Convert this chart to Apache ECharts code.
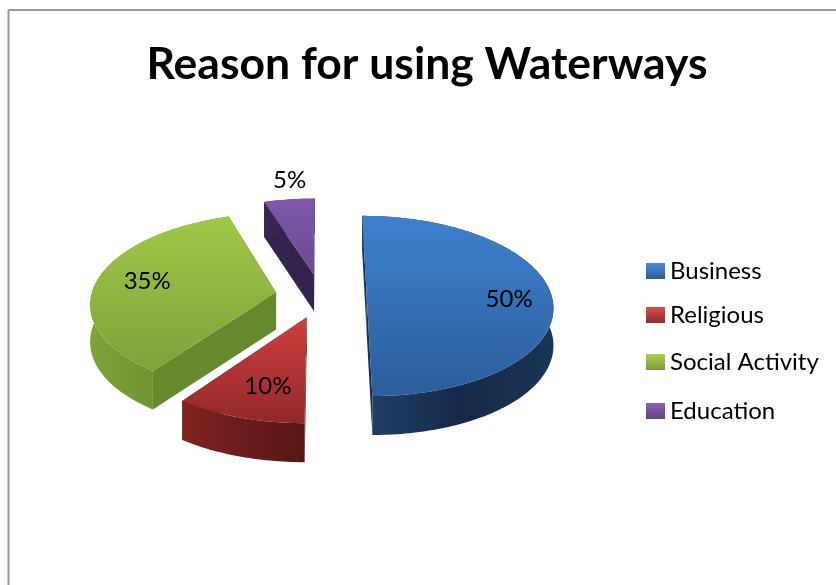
<!DOCTYPE html>
<html>
<head>
<meta charset="utf-8">
<style>
  html, body { margin: 0; padding: 0; background: #fff; }
  #chart { width: 836px; height: 585px; }
</style>
<script src="https://cdn.jsdelivr.net/npm/echarts@6/dist/echarts.min.js"></script>
</head>
<body>
<div id="chart"></div>
<script>
// Survey answers, in percent
const chartTitle = 'Reason for using Waterways';
const categories = ['Business', 'Religious', 'Social Activity', 'Education'];
const shares = [50, 10, 35, 5];

// Tilted-disc projection used for the exploded pie
const view = { cx: 321, cy: 296, rx: 185, ry: 89, perspective: 0.11, explode: 0.247 };

// One look per slice, painted from back to front via paintOrder
const looks = [
  { top: ['#3f81ce', '#2c5d9b'], wall: ['#1f4268', '#15294a', '#1a3556'], side: '#16304f', legend: ['#4a8cd8', '#2b5c98'] },
  { top: ['#cf403e', '#91282a'], wall: ['#7f2522', '#6a1c1b', '#571716'], side: '#5a1716', legend: ['#d6504e', '#92292a'] },
  { top: ['#9fc948', '#7da23a'], wall: ['#7fa239', '#6f9331', '#5f8229'], side: '#66892c', legend: ['#a9d24f', '#7a9b39'] },
  { top: ['#7f58aa', '#6b4a92'], wall: ['#3a2856', '#33234d', '#2d1f45'], side: '#33234d', legend: ['#8a63b6', '#5f4283'] }
];
const paintOrder = [3, 2, 0, 1];

// Where each percentage sits: fraction of the radius along the slice bisector, then a nudge
const labelSpots = [
  { f: 0.77, dx: 0, dy: 3 },
  { f: 0.6, dx: 0, dy: 12 },
  { f: 0.72, dx: 0, dy: -1 },
  { f: 1.3, dx: 7, dy: 1 }
];
const legendCentres = [270, 314, 361, 410];

const total = shares.reduce((a, b) => a + b, 0);
const startAngles = shares.map((_, i) =>
  shares.slice(0, i).reduce((a, b) => a + b, 0) / total * Math.PI * 2);

function project(x, v) {
  const d = 1 - view.perspective * v;
  return [view.cx + view.rx * x / d, view.cy + view.ry * v / d];
}
function wallDepth(v) {
  return 37 + 2 * Math.max(-1, Math.min(1, v));
}

function sliceShapes(index, share) {
  const from = startAngles[index];
  const to = from + share / total * Math.PI * 2;
  const mid = (from + to) / 2;
  const ox = view.explode * Math.sin(mid);
  const ov = -view.explode * Math.cos(mid);
  const rim = [];
  const bottomRim = [];
  const steps = Math.max(4, Math.round((to - from) / 0.02));
  for (let k = 0; k <= steps; k++) {
    const a = from + (to - from) * k / steps;
    const v = ov - Math.cos(a);
    const p = project(ox + Math.sin(a), v);
    rim.push(p);
    bottomRim.push([p[0], p[1] + wallDepth(v)]);
  }
  const apex = project(ox, ov);
  const apexBottom = [apex[0], apex[1] + wallDepth(ov)];
  return { from, to, mid, ox, ov, rim, bottomRim, apex, apexBottom };
}

function renderSlice(params, api) {
  const index = params.seriesIndex;
  const share = api.value(0);
  const look = looks[index];
  const s = sliceShapes(index, share);
  const last = s.rim.length - 1;
  const poly = (points, fill) => ({ type: 'polygon', shape: { points }, style: { fill, stroke: null } });

  const wallFill = new echarts.graphic.LinearGradient(0, 0, 1, 0, [
    { offset: 0, color: look.wall[0] },
    { offset: 0.5, color: look.wall[1] },
    { offset: 1, color: look.wall[2] }
  ]);
  const topFill = new echarts.graphic.LinearGradient(0, 0, 0, 1, [
    { offset: 0, color: look.top[0] },
    { offset: 1, color: look.top[1] }
  ]);

  const spot = labelSpots[index];
  const lv = s.ov - spot.f * Math.cos(s.mid);
  const lp = project(s.ox + spot.f * Math.sin(s.mid), lv);

  return {
    type: 'group',
    children: [
      poly([s.apex, s.rim[0], s.bottomRim[0], s.apexBottom], look.side),
      poly([s.apex, s.rim[last], s.bottomRim[last], s.apexBottom], look.side),
      poly(s.rim.concat(s.bottomRim.slice().reverse()), wallFill),
      poly([s.apex].concat(s.rim), topFill),
      {
        type: 'text',
        x: lp[0] + spot.dx,
        y: lp[1] + spot.dy,
        style: {
          text: share + '%',
          fill: '#000',
          font: '24px Lato',
          align: 'center',
          verticalAlign: 'middle'
        }
      }
    ]
  };
}

const chart = echarts.init(document.getElementById('chart'), null, { renderer: 'canvas' });
chart.setOption({
  animation: false,
  backgroundColor: '#fff',
  title: {
    text: chartTitle,
    left: 422,
    top: 60,
    textAlign: 'center',
    textVerticalAlign: 'middle',
    textStyle: { fontFamily: 'Lato', fontWeight: 'bold', fontSize: 44.5, color: '#000' }
  },
  legend: categories.map((name, i) => ({
    data: [name],
    left: 646,
    top: legendCentres[i] - 11,
    padding: 0,
    icon: 'rect',
    itemWidth: 19,
    itemHeight: 16,
    itemGap: 6,
    selectedMode: false,
    itemStyle: {
      color: new echarts.graphic.LinearGradient(0, 0, 0, 1, [
        { offset: 0, color: looks[i].legend[0] },
        { offset: 1, color: looks[i].legend[1] }
      ])
    },
    textStyle: { fontFamily: 'Lato', fontSize: 24, color: '#000' }
  })),
  graphic: [
    { type: 'line', shape: { x1: 8.5, y1: 10, x2: 836, y2: 10 }, style: { stroke: '#999', lineWidth: 2 } },
    { type: 'line', shape: { x1: 8.5, y1: 10, x2: 8.5, y2: 585 }, style: { stroke: '#999', lineWidth: 2 } }
  ],
  series: categories.map((name, i) => ({
    type: 'custom',
    name,
    coordinateSystem: 'none',
    silent: true,
    z: 2 + paintOrder.indexOf(i),
    renderItem: renderSlice,
    data: [[shares[i]]]
  }))
});
</script>
</body>
</html>
